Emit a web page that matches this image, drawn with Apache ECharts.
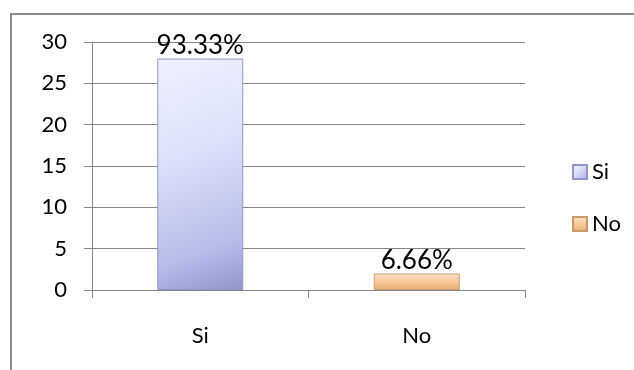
<!DOCTYPE html>
<html>
<head>
<meta charset="utf-8">
<script src="https://cdn.jsdelivr.net/npm/echarts@6/dist/echarts.min.js"></script>
<style>
  html, body { margin: 0; padding: 0; background: #ffffff; }
  #chart { width: 634px; height: 370px; }
</style>
</head>
<body>
<div id="chart"></div>
<script>
// Survey answers: respondent counts with their share of the total
var categories = ['Si', 'No'];
var counts = [28, 2];
var shareLabels = ['93.33%', '6.66%'];
var yTicks = [0, 5, 10, 15, 20, 25, 30];

var FONT = 'Lato, "Open Sans", sans-serif';

// Beveled-look fills for each answer
var fills = [
  new echarts.graphic.LinearGradient(0, 0, 1, 1, [
    { offset: 0, color: '#eef1fe' },
    { offset: 0.4, color: '#dce2fa' },
    { offset: 0.8, color: '#b7bcea' },
    { offset: 1, color: '#9095c9' }
  ]),
  new echarts.graphic.LinearGradient(0, 0, 0, 1, [
    { offset: 0, color: '#fde6cc' },
    { offset: 0.5, color: '#f9c898' },
    { offset: 1, color: '#e9ad77' }
  ])
];
var borders = ['#9296c4', '#c99a6c'];

var series = categories.map(function (name, i) {
  var data = categories.map(function (c, j) { return j === i ? counts[j] : null; });
  return {
    name: name,
    type: 'bar',
    stack: 'answers',
    barWidth: 86,
    data: data,
    itemStyle: { color: fills[i], borderColor: borders[i], borderWidth: 1 },
    label: {
      show: true,
      position: 'top',
      distance: 0,
      formatter: function () { return shareLabels[i]; },
      fontFamily: FONT,
      fontSize: 26,
      color: '#000000'
    }
  };
});

var chart = echarts.init(document.getElementById('chart'), null, { renderer: 'canvas' });
chart.setOption({
  animation: false,
  backgroundColor: '#ffffff',
  grid: { left: 92, top: 42, right: 109, bottom: 80, containLabel: false },
  legend: {
    orient: 'vertical',
    left: 567,
    top: 156,
    itemWidth: 14,
    itemHeight: 14,
    itemGap: 30,
    icon: 'rect',
    data: categories,
    textStyle: { fontFamily: FONT, fontSize: 22, color: '#000000' }
  },
  xAxis: {
    type: 'category',
    data: categories,
    axisLine: { lineStyle: { color: '#868686', width: 1 } },
    axisTick: { show: true, length: 8, lineStyle: { color: '#868686' } },
    axisLabel: { margin: 35, fontFamily: FONT, fontSize: 22, color: '#000000' }
  },
  yAxis: {
    type: 'value',
    min: yTicks[0],
    max: yTicks[yTicks.length - 1],
    interval: yTicks[1] - yTicks[0],
    axisLine: { show: true, lineStyle: { color: '#868686', width: 1 } },
    axisTick: { show: true, length: 8, lineStyle: { color: '#868686' } },
    splitLine: { show: true, lineStyle: { color: '#868686', width: 1 } },
    axisLabel: { margin: 25, fontFamily: FONT, fontSize: 22, color: '#000000' }
  },
  series: series,
  graphic: [
    { type: 'line', shape: { x1: 11, y1: 13, x2: 11, y2: 370 }, style: { stroke: '#8c8c8c', lineWidth: 2 } },
    { type: 'line', shape: { x1: 10, y1: 14, x2: 634, y2: 14 }, style: { stroke: '#8c8c8c', lineWidth: 2 } }
  ]
});
</script>
</body>
</html>
